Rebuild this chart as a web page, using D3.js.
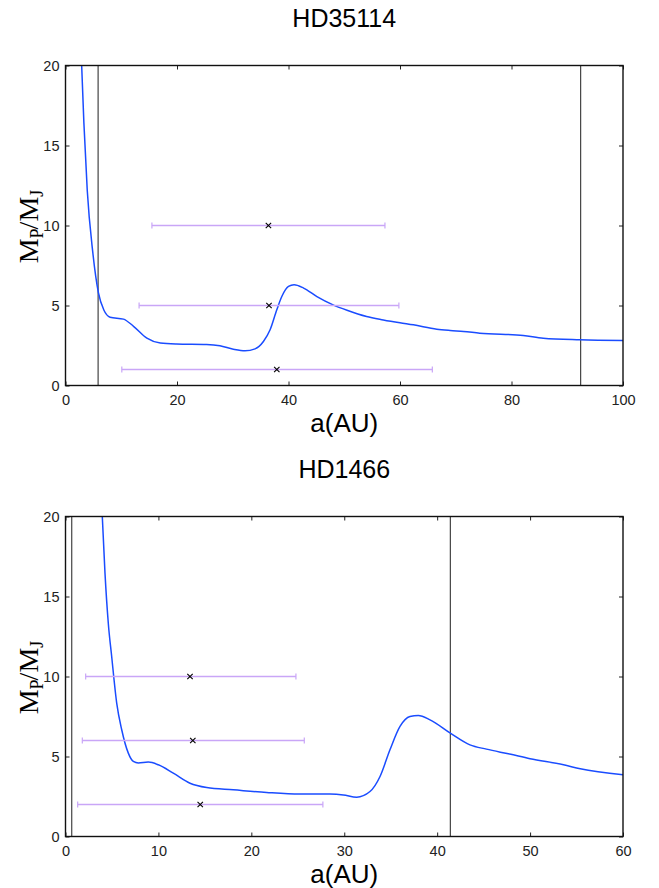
<!DOCTYPE html>
<html><head><meta charset="utf-8">
<script src="https://cdn.jsdelivr.net/npm/d3@7"></script>
<style>
body{margin:0;background:#fff;}
text{font-family:"Liberation Sans",Arial,sans-serif;}
</style></head>
<body><svg id="c" width="659" height="888"></svg>
<script>
// ---- Panel 1: HD35114 ----
const title1 = "HD35114";
const xTicks1 = [0, 20, 40, 60, 80, 100];
const yTicks1 = [0, 5, 10, 15, 20];
const curveX1 = [2.9, 3.3, 3.9, 4.9, 5.9, 6.9, 8.0, 10.4, 12.2, 14.6, 17.0, 19.9, 25.3, 27.7, 30.1, 32.2, 34.0, 35.5, 36.7, 37.9, 38.8, 40.0, 41.0, 42.7, 45.1, 48.0, 50.5, 54.0, 57.0, 60.0, 62.4, 66.6, 69.0, 71.4, 74.3, 82.1, 85.7, 92.3, 100];
const curveY1 = [20, 16.4, 12.2, 8.3, 5.8, 4.7, 4.27, 4.15, 3.7, 2.96, 2.65, 2.59, 2.56, 2.48, 2.27, 2.17, 2.29, 2.75, 3.48, 4.73, 5.56, 6.19, 6.29, 6.09, 5.56, 5.04, 4.7, 4.31, 4.1, 3.92, 3.79, 3.52, 3.44, 3.38, 3.27, 3.13, 2.96, 2.86, 2.81];
const vlines1 = [5.85, 92.4];
const errY1 = [10, 5, 1];
const errLo1 = [15.5, 13.2, 10.1];
const errHi1 = [57.3, 59.8, 65.8];
const errMid1 = [36.4, 36.5, 37.9];

// ---- Panel 2: HD1466 ----
const title2 = "HD1466";
const xTicks2 = [0, 10, 20, 30, 40, 50, 60];
const yTicks2 = [0, 5, 10, 15, 20];
const curveX2 = [3.96, 4.25, 4.61, 4.97, 5.51, 6.05, 6.76, 7.3, 7.84, 8.91, 9.99, 11.6, 13.4, 15.2, 18.06, 21.65, 25.2, 28.46, 29.9, 31.34, 32.77, 33.85, 34.92, 36.0, 37.07, 37.97, 39.23, 41.42, 43.53, 45.3, 47.8, 50.0, 53.6, 55.4, 60];
const curveY2 = [20, 16.46, 13.3, 11.25, 8.34, 6.67, 5.21, 4.69, 4.59, 4.65, 4.48, 3.96, 3.33, 3.06, 2.92, 2.75, 2.65, 2.65, 2.6, 2.46, 2.81, 3.75, 5.42, 6.88, 7.5, 7.56, 7.29, 6.46, 5.73, 5.46, 5.15, 4.86, 4.48, 4.23, 3.86];
const vlines2 = [0.67, 41.42];
const errY2 = [10, 6, 2];
const errLo2 = [2.17, 1.81, 1.31];
const errHi2 = [24.8, 25.7, 27.7];
const errMid2 = [13.4, 13.7, 14.5];

const svg = d3.select("#c");
const L = 65.5, R = 623;

function panel(cfg) {
  const {top, bottom, xmax, title, xTicks, yTicks, cx, cy, vlines, eY, eLo, eHi, eMid, id} = cfg;
  const x = d3.scaleLinear().domain([0, xmax]).range([L, R]);
  const y = d3.scaleLinear().domain([0, 20]).range([bottom, top]);
  const g = svg.append("g");

  g.append("clipPath").attr("id", id).append("rect")
    .attr("x", L).attr("y", top).attr("width", R - L).attr("height", bottom - top);

  // vertical lines
  g.selectAll(".vl").data(vlines).join("line")
    .attr("x1", d => x(d)).attr("x2", d => x(d)).attr("y1", top).attr("y2", bottom)
    .attr("stroke", "#444").attr("stroke-width", 1.2);

  // curve
  const pts = cx.map((v, i) => [v, cy[i]]);
  g.append("path").datum(pts)
    .attr("clip-path", `url(#${id})`)
    .attr("d", d3.line().x(d => x(d[0])).y(d => y(d[1])).curve(d3.curveMonotoneX))
    .attr("fill", "none").attr("stroke", "#1a4cff").attr("stroke-width", 1.5);

  // error bars
  const eb = eY.map((v, i) => ({y: v, lo: eLo[i], hi: eHi[i], m: eMid[i]}));
  const ec = "#c9a6f7";
  g.selectAll(".eb").data(eb).join("line")
    .attr("x1", d => x(d.lo)).attr("x2", d => x(d.hi)).attr("y1", d => y(d.y)).attr("y2", d => y(d.y))
    .attr("stroke", ec).attr("stroke-width", 1.5);
  g.selectAll(".cl").data(eb).join("line")
    .attr("x1", d => x(d.lo)).attr("x2", d => x(d.lo)).attr("y1", d => y(d.y) - 3).attr("y2", d => y(d.y) + 3)
    .attr("stroke", ec).attr("stroke-width", 1.2);
  g.selectAll(".ch").data(eb).join("line")
    .attr("x1", d => x(d.hi)).attr("x2", d => x(d.hi)).attr("y1", d => y(d.y) - 3).attr("y2", d => y(d.y) + 3)
    .attr("stroke", ec).attr("stroke-width", 1.2);
  const s = 2.7;
  g.selectAll(".mk").data(eb).join("path")
    .attr("d", d => `M${x(d.m)-s},${y(d.y)-s}L${x(d.m)+s},${y(d.y)+s}M${x(d.m)-s},${y(d.y)+s}L${x(d.m)+s},${y(d.y)-s}`)
    .attr("stroke", "#000").attr("stroke-width", 1.1);

  // axes
  const axB = d3.axisBottom(x).tickValues(xTicks).tickSizeInner(-4).tickSizeOuter(0).tickPadding(9).tickFormat(d3.format("d"));
  const axT = d3.axisTop(x).tickValues(xTicks).tickSizeInner(-4).tickSizeOuter(0).tickFormat("");
  const axLf = d3.axisLeft(y).tickValues(yTicks).tickSizeInner(-4).tickSizeOuter(0).tickPadding(6).tickFormat(d3.format("d"));
  const axRt = d3.axisRight(y).tickValues(yTicks).tickSizeInner(-4).tickSizeOuter(0).tickFormat("");
  const style = sel => {
    sel.selectAll("text").attr("font-size", 14.5).attr("fill", "#222").style("font-family", "'Liberation Sans',Arial,sans-serif");
    sel.selectAll("line").attr("stroke", "#222");
    sel.select(".domain").remove();
  };
  g.append("g").attr("transform", `translate(0,${bottom})`).call(axB).call(style);
  g.append("g").attr("transform", `translate(0,${top})`).call(axT).call(style);
  g.append("g").attr("transform", `translate(${L},0)`).call(axLf).call(style);
  g.append("g").attr("transform", `translate(${R},0)`).call(axRt).call(style);

  g.append("rect").attr("x", L).attr("y", top).attr("width", R - L).attr("height", bottom - top)
    .attr("fill", "none").attr("stroke", "#111").attr("stroke-width", 1.4);

  // title
  g.append("text").attr("x", (L + R) / 2).attr("y", top - 39).attr("text-anchor", "middle")
    .attr("font-size", 25).attr("fill", "#000").text(title);
  // x label
  g.append("text").attr("x", (L + R) / 2).attr("y", bottom + 46).attr("text-anchor", "middle")
    .attr("font-size", 26).attr("fill", "#000").text("a(AU)");
  // y label
  const yl = g.append("text").attr("transform", `translate(37.5,${(top + bottom) / 2 + 1}) rotate(-90)`)
    .attr("text-anchor", "middle").attr("font-size", 28).attr("fill", "#000")
    .style("font-family", "'Liberation Serif','Times New Roman',serif");
  yl.append("tspan").text("M");
  yl.append("tspan").attr("font-size", 18).attr("dy", 5).text("P");
  yl.append("tspan").attr("dy", -5).attr("dx", -1).text("/M");
  yl.append("tspan").attr("font-size", 18).attr("dy", 5).text("J");
}

panel({id: "cp1", top: 65.5, bottom: 385.5, xmax: 100, title: title1, xTicks: xTicks1, yTicks: yTicks1,
  cx: curveX1, cy: curveY1, vlines: vlines1, eY: errY1, eLo: errLo1, eHi: errHi1, eMid: errMid1});
panel({id: "cp2", top: 516.5, bottom: 836.5, xmax: 60, title: title2, xTicks: xTicks2, yTicks: yTicks2,
  cx: curveX2, cy: curveY2, vlines: vlines2, eY: errY2, eLo: errLo2, eHi: errHi2, eMid: errMid2});
</script></body></html>
